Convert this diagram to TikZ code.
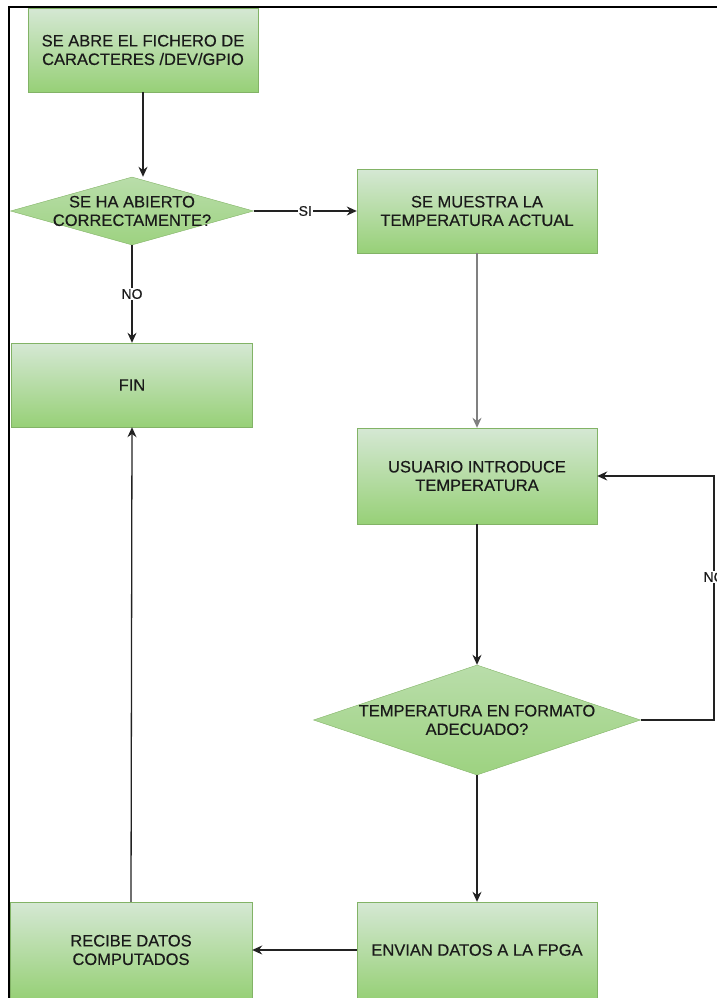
\documentclass[tikz,border=0pt]{standalone}
\usepackage{fontspec}
\setmainfont{Liberation Sans}[FakeBold=0.4]
\usepackage{xcolor}
\usepackage{tikz}
\usetikzlibrary{shapes.geometric,arrows.meta}

\definecolor{boxtop}{HTML}{D5E8D4}
\definecolor{boxbottom}{HTML}{97D077}
\definecolor{boxline}{HTML}{82B366}
\definecolor{textdark}{HTML}{1A1A1A}
\definecolor{wire}{HTML}{222222}

\tikzset{
  stepbox/.style={rectangle, draw=boxline, top color=boxtop, bottom color=boxbottom,
    align=center, text=textdark, inner sep=0pt, font=\fontsize{16.5}{18.5}\selectfont},
  decision/.style={diamond, draw=boxline, top color=boxtop!55!boxbottom, bottom color=boxbottom!90!boxtop,
    inner sep=0pt},
  dectext/.style={align=center, text=textdark, inner sep=0pt, font=\fontsize{16.5}{18.5}\selectfont},
  flow/.style={draw=wire, line width=1.3pt, -{Stealth[length=10pt,width=9pt]}},
  tag/.style={fill=white, inner sep=1pt, text=textdark, font=\fontsize{14}{15}\selectfont},
}

\begin{document}
\begin{tikzpicture}[x=1pt, y=-1pt]
        \useasboundingbox (0,0) rectangle (717,998);
        \clip (0,0) rectangle (717,998);

        % Define the nodes
        \node[stepbox, minimum width=230pt, minimum height=84pt] (open) at (143,50) {SE ABRE EL FICHERO DE\\CARACTERES /DEV/GPIO};
        \node[decision, minimum width=243pt, minimum height=68pt,
              label={[dectext]center:{SE HA ABIERTO\\CORRECTAMENTE?}}] (opened) at (132,211) {};
        \node[stepbox, minimum width=240pt, minimum height=84pt] (show) at (477,211) {SE MUESTRA LA\\TEMPERATURA ACTUAL};
        \node[stepbox, minimum width=241pt, minimum height=84pt] (fin) at (132,385) {FIN};
        \node[stepbox, minimum width=240pt, minimum height=96pt] (input) at (477,476) {USUARIO INTRODUCE\\TEMPERATURA};
        \node[decision, minimum width=327pt, minimum height=110pt,
              label={[dectext]center:{TEMPERATURA EN FORMATO\\ADECUADO?}}] (valid) at (477,720) {};
        \node[stepbox, minimum width=240pt, minimum height=96pt] (send) at (477,950) {ENVIAN DATOS A LA FPGA};
        \node[stepbox, minimum width=242pt, minimum height=96pt] (receive) at (131,950) {RECIBE DATOS\\COMPUTADOS};
        \coordinate (loop) at (714,600);

        % Draw the arrows
        \draw[flow] (open.south) -- (open.south |- opened.north);
        \draw[flow] (opened.east) -- node[tag] {SI} (show.west);
        \draw[flow] (opened.south) -- node[tag] {NO} (fin.north);
        \draw[flow, draw=gray] (show.south) -- (input.north);
        \draw[flow] (input.south) -- (valid.north);
        \draw[flow] (valid.east) -| (loop) |- (input.east);
        \node[tag] (retry) at (714,577) {NO};
        \draw[flow] (valid.south) -- (send.north);
        \draw[flow] (send.west) -- (receive.east);
        \draw[flow] (receive.north) -- (fin.south);

        % Frame of the page
        \draw[line width=1.4pt] (9,998) -- (9,7) -- (717,7);
    \end{tikzpicture}
\end{document}
